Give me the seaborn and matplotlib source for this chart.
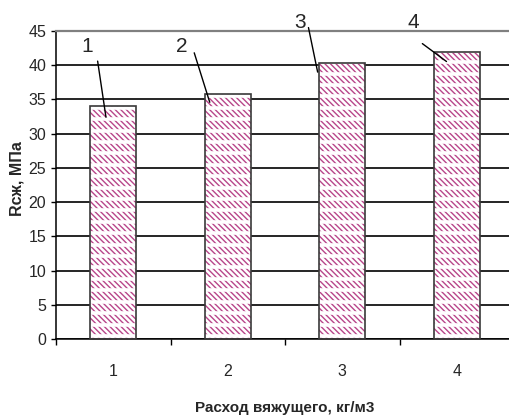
import numpy as np
import pandas as pd
import matplotlib
matplotlib.use("Agg")
import matplotlib.pyplot as plt
from matplotlib.patches import Rectangle
import seaborn as sns

# ---- data ----
categories = ["1", "2", "3", "4"]
strength = [34.0, 35.8, 40.3, 42.0]
bar_labels = ["1", "2", "3", "4"]
y_ticks = [0, 5, 10, 15, 20, 25, 30, 35, 40, 45]
x_title = "Расход вяжущего, кг/м3"
y_title = "Rсж, МПа"

# annotation layout (offsets relative to bar centre, in data units)
label_dx = [-0.23, -0.40, -0.37, -0.38]
label_y = [42.7, 42.7, 46.3, 46.3]
line_start_dx = [-0.14, -0.30, -0.30, -0.32]
line_start_y = [41.0, 42.2, 45.9, 43.4]
line_end_dx = [-0.06, -0.15, -0.21, -0.07]
line_end_y = [32.0, 34.2, 38.6, 40.3]

df = pd.DataFrame({"cat": categories, "val": strength})

sns.set_style("white")
plt.rcParams["font.family"] = ["Liberation Sans", "DejaVu Sans"]
plt.rcParams["hatch.linewidth"] = 1.0

fig = plt.figure(figsize=(5.09, 4.15), dpi=100)
ax = fig.add_axes([56 / 509, 76 / 415, 458 / 509, 308 / 415])

pink = "#b8468a"
sns.barplot(data=df, x="cat", y="val", ax=ax, color="white", edgecolor=pink,
            linewidth=0, hatch="\\" * 6, width=0.4, saturation=1, zorder=2)

bars = list(ax.patches)
stripe_y = np.arange(0, 46, 5 / 3) + 0.45
for p in bars:
    x0 = p.get_x()
    x1 = x0 + p.get_width()
    lc = ax.hlines(stripe_y, x0, x1, colors="white", linewidth=2.6, zorder=3)
    lc.set_clip_path(p)
    ax.add_patch(Rectangle(p.get_xy(), p.get_width(), p.get_height(), fill=False,
                           edgecolor="#3a3a3a", linewidth=1.2, zorder=4))

# gridlines
ax.set_ylim(0, 45)
ax.set_xlim(-0.5, 3.5)
ax.set_yticks(y_ticks)
ax.set_axisbelow(True)
ax.yaxis.grid(True, color="black", linewidth=1.2)
ax.xaxis.grid(False)

ax.spines["right"].set_visible(False)
ax.spines["top"].set_color("#808080")
ax.spines["top"].set_linewidth(1.6)
for s in ["left", "bottom"]:
    ax.spines[s].set_color("black")
    ax.spines[s].set_linewidth(1.1)

ax.tick_params(axis="y", which="major", direction="out", length=3.5, width=1.0,
               color="black", labelsize=11.5, pad=3.5, left=True)
ax.set_xticks(range(len(categories)))
ax.set_xticklabels(categories)
ax.set_xticks(np.arange(-0.5, 4.0, 1.0), minor=True)
ax.tick_params(axis="x", which="major", length=0, labelsize=11.5, pad=18)
ax.tick_params(axis="x", which="minor", direction="out", length=4.5, width=1.0,
               color="black", bottom=True)

ax.set_xlabel(x_title, fontsize=11, fontweight="bold")
ax.set_ylabel(y_title, fontsize=11.5, fontweight="bold")
ax.xaxis.set_label_coords(0.5, -0.2)
ax.yaxis.set_label_coords(-0.068, 0.52)

for i, p in enumerate(bars):
    cx = p.get_x() + p.get_width() / 2
    ax.annotate("", xy=(cx + line_end_dx[i], line_end_y[i]),
                xytext=(cx + line_start_dx[i], line_start_y[i]),
                arrowprops=dict(arrowstyle="-", color="black", lw=1.0),
                annotation_clip=False, zorder=5)
    ax.text(cx + label_dx[i], label_y[i], bar_labels[i], fontsize=15,
            ha="center", va="center", clip_on=False, zorder=5)

fig.savefig("out.png", dpi=100)
